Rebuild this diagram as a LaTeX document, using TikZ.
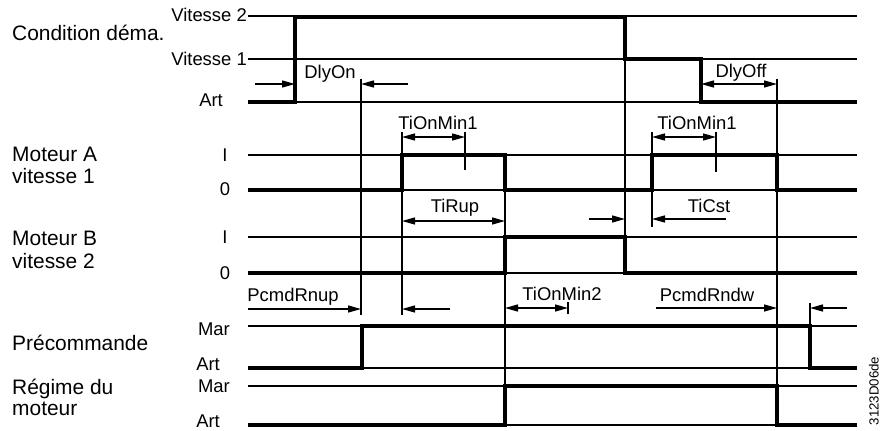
\documentclass[tikz,border=0pt]{standalone}
\usepackage{fontspec}
\setmainfont{Liberation Sans}
\usetikzlibrary{arrows.meta}
\begin{document}
\begin{tikzpicture}[x=1bp,y=-1bp,
  lvl/.style={line width=1.4bp},
  guide/.style={line width=1.4bp},
  sig/.style={line width=4.5bp, line join=miter},
  tip/.tip={Triangle[length=13bp,width=7bp]},
  arr/.style={line width=1.4bp, -tip},
  dim/.style={line width=1.4bp, tip-tip},
  big/.style={font=\fontsize{21}{25}\selectfont, anchor=base west, inner sep=0},
  lv/.style={font=\fontsize{18.5}{22}\selectfont, anchor=base east, inner sep=0},
  lvc/.style={font=\fontsize{18.5}{22}\selectfont, anchor=base, inner sep=0},
  dl/.style={font=\fontsize{18.5}{22}\selectfont, anchor=base, inner sep=0},
]
\useasboundingbox[fill=white] (0,0) rectangle (883,430);

% level lines
\foreach \y in {16,59,102,155,190,237,273,326,368,386,425}
  \draw[lvl] (248,\y) -- (857,\y);

% vertical guide lines
\draw[guide] (361,79) -- (361,315);
\draw[guide] (402,132) -- (402,315);
\draw[guide] (465,132) -- (465,170);
\draw[guide] (505,190) -- (505,425);
\draw[guide] (625,59) -- (625,237);
\draw[guide] (652,132) -- (652,227);
\draw[guide] (716,132) -- (716,172);
\draw[guide] (777,79) -- (777,425);
\draw[guide] (810,303) -- (810,326);
\draw[guide] (568,302) -- (568,314);

% signals
\draw[sig] (248,102) -- (295,102) -- (295,17) -- (625,17) -- (625,59) -- (701,59) -- (701,102) -- (857,102);
\draw[sig] (248,190) -- (402,190) -- (402,155) -- (505,155) -- (505,190) -- (652,190) -- (652,155) -- (777,155) -- (777,190) -- (857,190);
\draw[sig] (248,273) -- (505,273) -- (505,237) -- (625,237) -- (625,273) -- (857,273);
\draw[sig] (248,368) -- (362,368) -- (362,326) -- (810,326) -- (810,368) -- (857,368);
\draw[sig] (248,425) -- (505,425) -- (505,386) -- (777,386) -- (777,425) -- (857,425);

% dimension arrows
\draw[arr] (255,84) -- (295,84);
\draw[arr] (408,84) -- (361,84);
\draw[dim] (701,84) -- (777,84);
\draw[dim] (402,137) -- (465,137);
\draw[dim] (652,137) -- (716,137);
\draw[dim] (402,221) -- (505,221);
\draw[arr] (589,219) -- (625,219);
\draw[arr] (726,219) -- (652,219);
\draw[arr] (248,309) -- (361,309);
\draw[arr] (450,309) -- (402,309);
\draw[dim] (505,308) -- (568,308);
\draw[arr] (656,308) -- (777,308);
\draw[arr] (847,308) -- (810,308);

% dimension labels
\node[dl] (dlyon) at (330,78) {DlyOn};
\node[dl] (dlyoff) at (741,77) {DlyOff};
\node[dl] (tion1a) at (438,129) {TiOnMin1};
\node[dl] (tion1b) at (697,129) {TiOnMin1};
\node[dl] (tirup) at (455,212.5) {TiRup};
\node[dl] (ticst) at (709,212.5) {TiCst};
\node[dl] (pcup) at (293,301.7) {PcmdRnup};
\node[dl] (tion2) at (562,300) {TiOnMin2};
\node[dl] (pcdw) at (707,301.7) {PcmdRndw};

% signal names
\node[big] (cond) at (12,40) {Condition déma.};
\node[big] (mota1) at (12,161.7) {Moteur A};
\node[big] (mota2) at (12,183) {vitesse 1};
\node[big] (motb1) at (12,245) {Moteur B};
\node[big] (motb2) at (12,268.3) {vitesse 2};
\node[big] (prec) at (12,350.7) {Précommande};
\node[big] (reg1) at (12,394.3) {Régime du};
\node[big] (reg2) at (12,415) {moteur};

% level labels
\node[lv] (v2) at (247,21.7) {Vitesse 2};
\node[lv] (v1) at (247,65) {Vitesse 1};
\node[lv] (art1) at (223,106.7) {Art};
\node[lvc] (ia) at (225,161.7) {I};
\node[lvc] (za) at (225,195) {0};
\node[lvc] (ib) at (225,243.3) {I};
\node[lvc] (zb) at (225,279.3) {0};
\node[lv] (mar1) at (230,335) {Mar};
\node[lv] (art2) at (220,370.7) {Art};
\node[lv] (mar2) at (230,392.3) {Mar};
\node[lv] (art3) at (220,427) {Art};

% figure code
\node[font=\fontsize{13.3}{15}\selectfont, rotate=90, inner sep=0] (code) at (874,391) {3123D06de};
\end{tikzpicture}
\end{document}
